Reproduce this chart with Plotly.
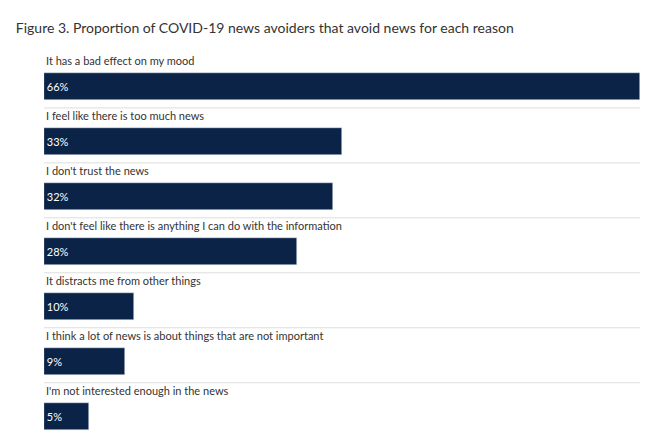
import plotly.graph_objects as go

reasons = [
    "It has a bad effect on my mood",
    "I feel like there is too much news",
    "I don't trust the news",
    "I don't feel like there is anything I can do with the information",
    "It distracts me from other things",
    "I think a lot of news is about things that are not important",
    "I'm not interested enough in the news",
]
values = [66, 33, 32, 28, 10, 9, 5]
pos = list(range(len(reasons)))

fig = go.Figure(go.Bar(
    x=values, y=pos, orientation="h", width=0.5,
    marker_color="#0b2347",
    text=[f"{v}%" for v in values], textposition="inside",
    insidetextanchor="start", textangle=0,
    textfont=dict(color="white", size=11, family="Lato"),
    hoverinfo="skip",
))

for i, r in zip(pos, reasons):
    fig.add_annotation(x=0, y=i - 0.47, text=r, xref="x", yref="y",
                       xanchor="left", yanchor="middle", showarrow=False,
                       font=dict(size=11, color="#333", family="Lato"))
for i in pos[:-1]:
    fig.add_shape(type="line", xref="paper", yref="y", x0=0, x1=1,
                  y0=i + 0.39, y1=i + 0.39, line=dict(color="#dddddd", width=1))

fig.update_layout(
    width=650, height=441,
    margin=dict(l=36, r=18, t=29, b=8),
    plot_bgcolor="white", paper_bgcolor="white",
    showlegend=False,
    title=dict(text="Figure 3. Proportion of COVID-19 news avoiders that avoid news for each reason",
               x=0.012, xanchor="left", y=0.955, yanchor="middle",
               font=dict(size=14, color="#333", family="Lato")),
    bargap=0,
)
fig.update_xaxes(range=[0, 66], visible=False)
fig.update_yaxes(range=[6.45, -0.9], visible=False)
fig.write_html("out.html")
